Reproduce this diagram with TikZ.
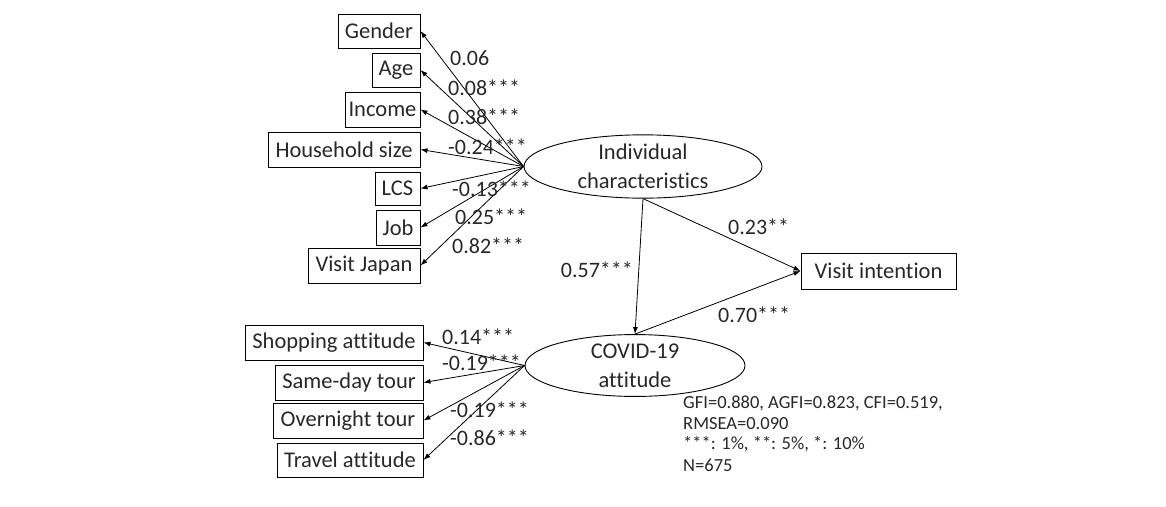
\documentclass[tikz,border=0pt]{standalone}
\usepackage{fontspec}
\setmainfont{Carlito}[Ligatures=NoCommon]
\usetikzlibrary{arrows.meta,shapes.geometric}
\definecolor{txt}{RGB}{40,40,40}
\begin{document}
\begin{tikzpicture}[x=1pt,y=-1pt,
  box/.style={draw=black, line width=0.9pt, inner sep=0pt, text=txt, font=\fontsize{22.5}{26}\selectfont},
  lat/.style={draw=black, line width=0.9pt, ellipse, inner sep=0pt, align=center, text=txt, font=\fontsize{22.5}{29}\selectfont},
  lbl/.style={anchor=west, inner sep=0pt, text=txt, font=\fontsize{22}{25}\selectfont},
  arr/.style={-{Latex[length=7pt,width=5pt]}, line width=0.8pt},
  note/.style={anchor=west, inner sep=0pt, text=txt, font=\fontsize{18.5}{21}\selectfont}]
\useasboundingbox (0,0) rectangle (1166,506);

% latent variables
\node[lat, minimum width=238pt, minimum height=63pt] (ic) at (643,166.5) {Individual\\characteristics};
\node[lat, minimum width=220pt, minimum height=61pt] (cv) at (635,365.5) {COVID-19\\attitude};

% observed boxes (top)
\node[box, minimum width=82pt, minimum height=34pt] (gender) at (379,31) {Gender};
\node[box, minimum width=48pt, minimum height=34pt] (age) at (396,70) {Age};
\node[box, minimum width=75pt, minimum height=35pt] (income) at (382.5,109.5) {Income};
\node[box, minimum width=152pt, minimum height=35pt] (hh) at (344,149.5) {Household size};
\node[box, minimum width=45pt, minimum height=33pt] (lcs) at (397.5,188.5) {LCS};
\node[box, minimum width=44pt, minimum height=35pt] (job) at (398,227.5) {Job};
\node[box, minimum width=112pt, minimum height=35pt] (vj) at (364,265.5) {Visit Japan};

% observed boxes (bottom)
\node[box, minimum width=178pt, minimum height=35pt] (shop) at (334,342.5) {Shopping attitude};
\node[box, minimum width=148pt, minimum height=35pt] (same) at (349,382.5) {Same-day tour};
\node[box, minimum width=150pt, minimum height=35pt] (over) at (348,420.5) {Overnight tour};
\node[box, minimum width=146pt, minimum height=34pt] (trav) at (350,460) {Travel attitude};

% outcome
\node[box, minimum width=155pt, minimum height=36pt] (vi) at (878.5,271) {Visit intention};

% connectors
\foreach \t in {gender,age,income,hh,lcs,job,vj}
  \draw[arr] (ic.west) -- (\t.east);
\foreach \t in {shop,same,over,trav}
  \draw[arr] (cv.west) -- (\t.east);
\draw[arr] (ic.south) -- (cv.north);
\draw[arr] (ic.south) -- (vi.west);
\draw[arr] (cv.north) -- (vi.west);

% loadings
\node[lbl] (l1) at (450,58) {0.06};
\node[lbl] (l2) at (448,88) {0.08***};
\node[lbl] (l3) at (448,117) {0.38***};
\node[lbl] (l4) at (448,147) {-0.24***};
\node[lbl] (l5) at (452,189) {-0.13***};
\node[lbl] (l6) at (455,217) {0.25***};
\node[lbl] (l7) at (452,246) {0.82***};
\node[lbl, anchor=east] (l8) at (633,270) {0.57***};
\node[lbl] (l9) at (728,227) {0.23**};
\node[lbl] (l10) at (718,315) {0.70***};
\node[lbl] (l11) at (442,337) {0.14***};
\node[lbl] (l12) at (442,363) {-0.19***};
\node[lbl] (l13) at (450,410) {-0.19***};
\node[lbl] (l14) at (450,438) {-0.86***};

% notes
\node[note] (n1) at (683,403) {GFI=0.880, AGFI=0.823, CFI=0.519,};
\node[note] (n2) at (683,424) {RMSEA=0.090};
\node[note] (n3) at (683,444) {***: 1\%, **: 5\%, *: 10\%};
\node[note] (n4) at (683,465) {N=675};
\end{tikzpicture}
\end{document}
